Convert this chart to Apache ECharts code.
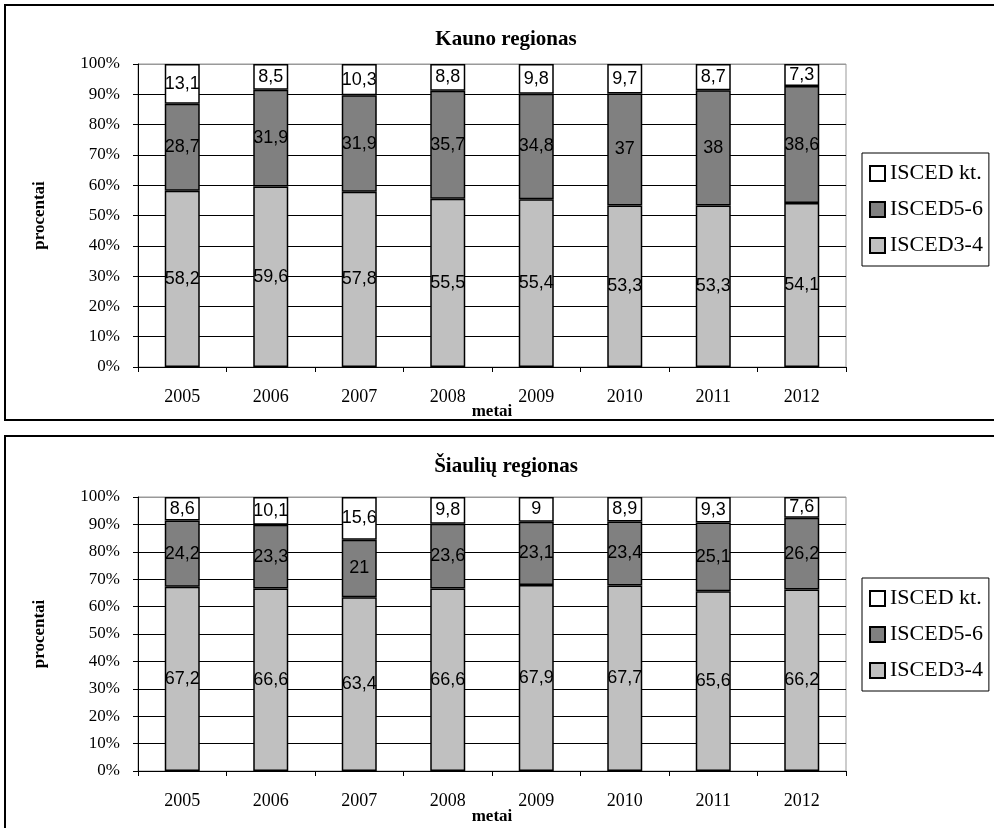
<!DOCTYPE html>
<html>
<head>
<meta charset="utf-8">
<script src="https://cdn.jsdelivr.net/npm/echarts@6/dist/echarts.min.js"></script>
<style>
  html, body { margin: 0; padding: 0; background: #fff; }
  #chart { width: 994px; height: 828px; }
</style>
</head>
<body>
<div id="chart"></div>
<script>
// Years shown on the horizontal axis
const years = ['2005', '2006', '2007', '2008', '2009', '2010', '2011', '2012'];

// Series names (legend order, top to bottom)
const seriesNames = ['ISCED kt.', 'ISCED5-6', 'ISCED3-4'];

// Kauno regionas, shares in percent
const kaunasIsced34 = [58.2, 59.6, 57.8, 55.5, 55.4, 53.3, 53.3, 54.1];
const kaunasIsced56 = [28.7, 31.9, 31.9, 35.7, 34.8, 37, 38, 38.6];
const kaunasOther   = [13.1, 8.5, 10.3, 8.8, 9.8, 9.7, 8.7, 7.3];

// Šiaulių regionas, shares in percent
const siauliaiIsced34 = [67.2, 66.6, 63.4, 66.6, 67.9, 67.7, 65.6, 66.2];
const siauliaiIsced56 = [24.2, 23.3, 21, 23.6, 23.1, 23.4, 25.1, 26.2];
const siauliaiOther   = [8.6, 10.1, 15.6, 9.8, 9, 8.9, 9.3, 7.6];

// Panel titles and axis titles
const titles = ['Kauno regionas', 'Šiaulių regionas'];
const xTitle = 'metai';
const yTitle = 'procentai';

const SERIF = 'Liberation Serif';
const SANS = 'Liberation Sans';

const fills = {
  'ISCED kt.': '#ffffff',
  'ISCED5-6': '#808080',
  'ISCED3-4': '#c0c0c0'
};

function fmt(v) { return String(v).replace('.', ','); }

function barSeries(name, data, idx) {
  return {
    name: name,
    type: 'bar',
    stack: 'panel' + idx,
    xAxisIndex: idx,
    yAxisIndex: idx,
    barWidth: 35,
    data: data,
    itemStyle: { color: fills[name], borderColor: '#000', borderWidth: 1.5 },
    label: {
      show: true,
      position: 'inside',
      formatter: p => fmt(p.value),
      color: '#000',
      fontFamily: SANS,
      fontSize: 18
    },
    emphasis: { disabled: true },
    animation: false
  };
}

const grids = [
  { left: 138, width: 708, top: 64, height: 303 },
  { left: 138, width: 708, top: 497, height: 274 }
];

function xAxisFor(i, gap) {
  return {
    type: 'category',
    gridIndex: i,
    data: years,
    axisLine: { lineStyle: { color: '#000', width: 1 } },
    axisTick: { show: true, length: 5, lineStyle: { color: '#000' } },
    axisLabel: { color: '#000', fontFamily: SERIF, fontSize: 18, margin: 21 },
    name: xTitle,
    nameLocation: 'middle',
    nameGap: gap,
    nameMoveOverlap: false,
    nameTextStyle: { color: '#000', fontFamily: SERIF, fontSize: 17, fontWeight: 'bold' }
  };
}

function yAxisFor(i) {
  return {
    type: 'value',
    gridIndex: i,
    min: 0,
    max: 100,
    interval: 10,
    axisLine: { show: true, lineStyle: { color: '#000', width: 1 } },
    axisTick: { show: true, length: 5, lineStyle: { color: '#000' } },
    axisLabel: { color: '#000', fontFamily: SERIF, fontSize: 17, margin: 18, formatter: '{value}%' },
    splitLine: {
      show: true,
      lineStyle: {
        color: ['#000', '#000', '#000', '#000', '#000', '#000', '#000', '#000', '#000', '#000', '#999'],
        width: 1
      }
    },
    name: yTitle,
    nameLocation: 'middle',
    nameRotate: 90,
    nameGap: 90,
    nameMoveOverlap: false,
    nameTextStyle: { color: '#000', fontFamily: SERIF, fontSize: 17, fontWeight: 'bold' }
  };
}

function legendFor(top) {
  return {
    data: seriesNames,
    orient: 'vertical',
    left: 862,
    top: top,
    icon: 'rect',
    itemWidth: 15,
    itemHeight: 15,
    itemGap: 13,
    padding: [9, 6, 9, 7],
    borderColor: '#000',
    borderWidth: 1,
    backgroundColor: '#fff',
    selectedMode: false,
    textStyle: { color: '#000', fontFamily: SERIF, fontSize: 22, lineHeight: 23 }
  };
}

const chart = echarts.init(document.getElementById('chart'), null, { renderer: 'canvas' });

chart.setOption({
  backgroundColor: '#fff',
  animation: false,
  title: [
    { text: titles[0], left: 501, top: 24, textAlign: 'center',
      textStyle: { color: '#000', fontFamily: SERIF, fontSize: 21, fontWeight: 'bold' } },
    { text: titles[1], left: 501, top: 451, textAlign: 'center',
      textStyle: { color: '#000', fontFamily: SERIF, fontSize: 21, fontWeight: 'bold' } }
  ],
  legend: [
    Object.assign(legendFor(153), { id: 'lg0' }),
    Object.assign(legendFor(578), { id: 'lg1' })
  ],
  grid: grids.map(g => Object.assign({ show: true, borderColor: '#999', borderWidth: 1, backgroundColor: 'transparent' }, g)),
  xAxis: [xAxisFor(0, 36), xAxisFor(1, 37)],
  yAxis: [yAxisFor(0), yAxisFor(1)],
  series: [
    barSeries('ISCED3-4', kaunasIsced34, 0),
    barSeries('ISCED5-6', kaunasIsced56, 0),
    barSeries('ISCED kt.', kaunasOther, 0),
    barSeries('ISCED3-4', siauliaiIsced34, 1),
    barSeries('ISCED5-6', siauliaiIsced56, 1),
    barSeries('ISCED kt.', siauliaiOther, 1)
  ],
  graphic: [
    { type: 'rect', shape: { x: 5, y: 5, width: 1100, height: 415 },
      style: { fill: 'none', stroke: '#000', lineWidth: 2 }, silent: true, z: -10 },
    { type: 'rect', shape: { x: 5, y: 436, width: 1100, height: 600 },
      style: { fill: 'none', stroke: '#000', lineWidth: 2 }, silent: true, z: -10 }
  ]
});
</script>
</body>
</html>
